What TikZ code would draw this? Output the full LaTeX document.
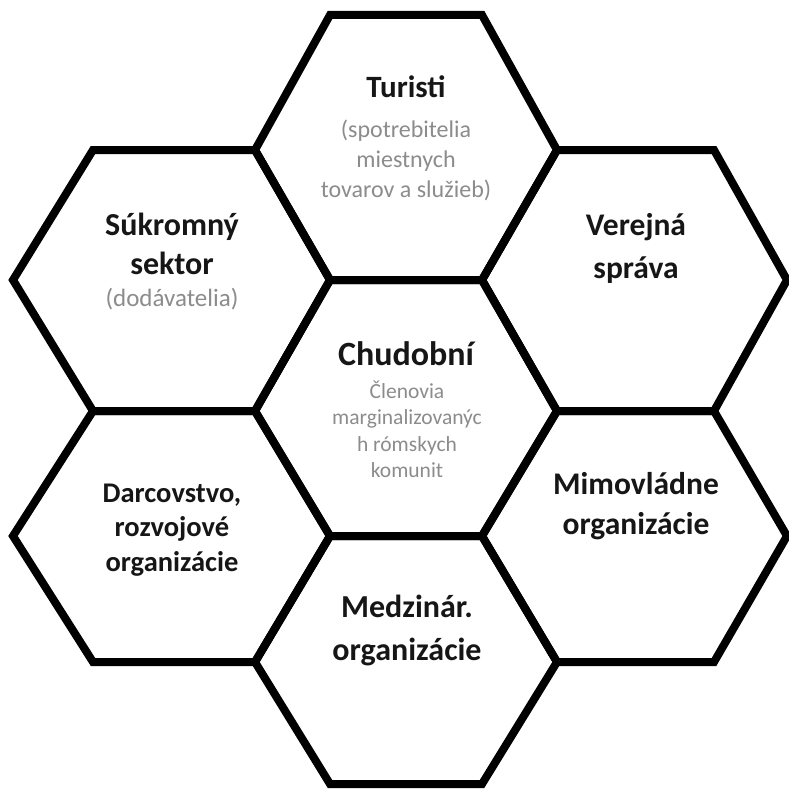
\documentclass[tikz,border=0pt]{standalone}
\usepackage{fontspec}
\setmainfont{Carlito}
\definecolor{subgrey}{RGB}{140,140,140}
\definecolor{titleblack}{RGB}{22,22,22}
\newcommand{\hexblk}[3]{{\fontsize{#1}{#2}\selectfont\begin{tabular}[t]{@{}c@{}}#3\end{tabular}}}
\begin{document}
\begin{tikzpicture}[x=1pt,y=-1pt,
  hexcell/.style={draw=black, line width=8pt, line join=miter},
  title/.style={anchor=base, inner sep=0pt, text=titleblack, font=\bfseries},
  sub/.style={anchor=base, inner sep=0pt, text=subgrey}]
\useasboundingbox[fill=white] (0,0) rectangle (788,789);
% hexagons
\path[hexcell] (330,15)--(482,15)--(557,150)--(482,280)--(330,280)--(255,150)--cycle;
\path[hexcell] (93,150)--(255,150)--(330,280)--(255,411)--(93,411)--(13,280)--cycle;
\path[hexcell] (557,150)--(714,150)--(787,280)--(714,411)--(557,411)--(482,280)--cycle;
\path[hexcell] (330,280)--(482,280)--(557,411)--(482,536)--(330,536)--(255,411)--cycle;
\path[hexcell] (93,411)--(255,411)--(330,536)--(255,662)--(93,662)--(13,536)--cycle;
\path[hexcell] (557,411)--(714,411)--(787,536)--(714,662)--(557,662)--(482,536)--cycle;
\path[hexcell] (330,536)--(482,536)--(557,662)--(482,784)--(330,784)--(255,662)--cycle;
% texts
\node[title] (turT) at (406,98) {\hexblk{31}{38}{Turisti}};
\node[sub] (turS) at (406,137) {\hexblk{24}{30}{(spotrebitelia\\miestnych\\tovarov a služieb)}};
\node[title] (sukT) at (172,235) {\hexblk{32}{39}{Súkromný\\sektor}};
\node[sub] (sukS) at (172,306) {\hexblk{25}{30}{(dodávatelia)}};
\node[title] (verT) at (636,235) {\hexblk{31.5}{43}{Verejná\\správa}};
\node[title] (chuT) at (406,365) {\hexblk{34}{40}{Chudobní}};
\node[sub] (chuS) at (407,398) {\hexblk{21.5}{26.5}{Členovia\\marginalizovanýc\\h rómskych\\komunit}};
\node[title] (darT) at (172,502) {\hexblk{28.5}{34.5}{Darcovstvo,\\rozvojové\\organizácie}};
\node[title] (mimT) at (636,494) {\hexblk{31.5}{40}{Mimovládne\\organizácie}};
\node[title] (medT) at (407,617) {\hexblk{32}{43}{Medzinár.\\organizácie}};
\end{tikzpicture}
\end{document}
